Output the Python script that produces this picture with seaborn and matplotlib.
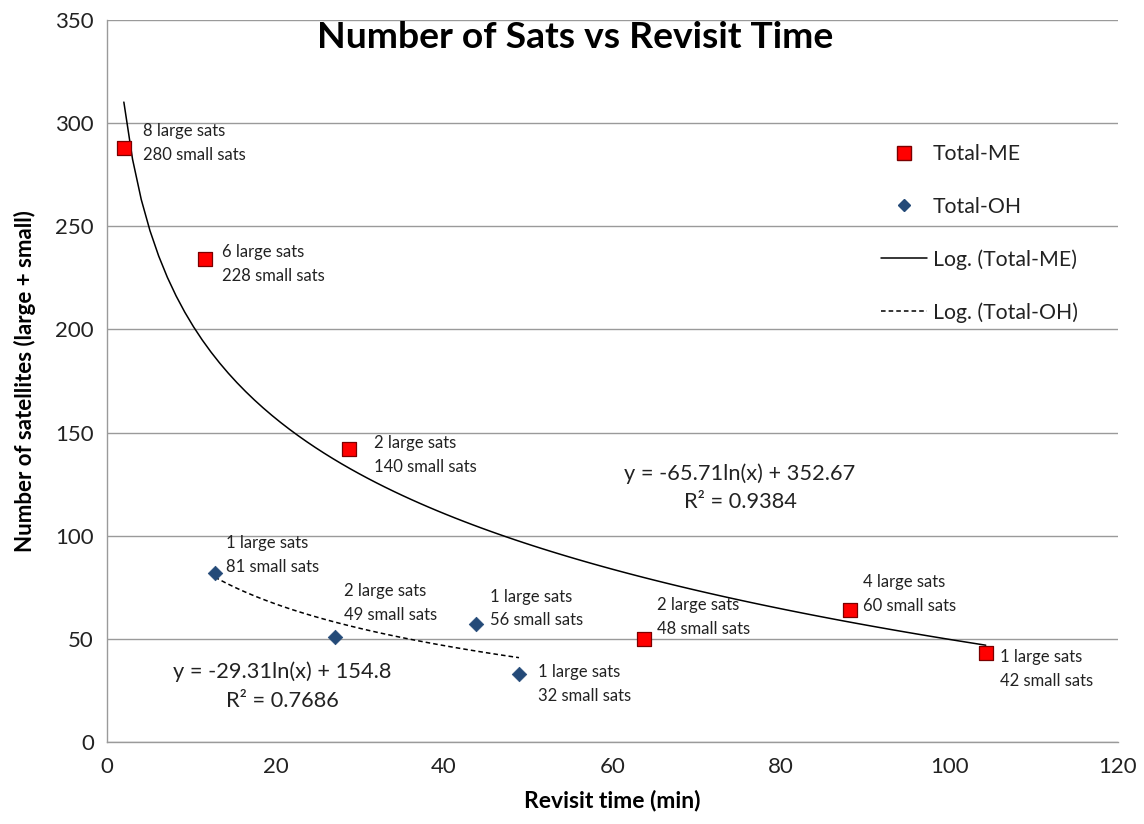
import numpy as np
import pandas as pd
import matplotlib
matplotlib.use("Agg")
import matplotlib.pyplot as plt
from matplotlib.lines import Line2D
import seaborn as sns

# ---------------- data ----------------
me_revisit = [2.0, 11.6, 28.7, 63.7, 88.2, 104.3]
me_large = [8, 6, 2, 2, 4, 1]
me_small = [280, 228, 140, 48, 60, 42]

oh_revisit = [12.8, 27.1, 43.8, 48.9]
oh_large = [1, 2, 1, 1]
oh_small = [81, 49, 56, 32]

x_ticks = [0, 20, 40, 60, 80, 100, 120]
y_ticks = [0, 50, 100, 150, 200, 250, 300, 350]

me_eq = "y = -65.71ln(x) + 352.67"
me_r2 = "R² = 0.9384"
oh_eq = "y = -29.31ln(x) + 154.8"
oh_r2 = "R² = 0.7686"

me_total = [a + b for a, b in zip(me_large, me_small)]
oh_total = [a + b for a, b in zip(oh_large, oh_small)]
df_me = pd.DataFrame({"x": me_revisit, "y": me_total})
df_oh = pd.DataFrame({"x": oh_revisit, "y": oh_total})

# ---------------- layout ----------------
me_offsets = [(19, 5), (17, -5), (25, -6), (13, 22), (13, 16), (14, -16)]
oh_offsets = [(11, 18), (9, 34), (14, 16), (19, -10)]

sns.set_theme(style="white")
FONT = ["Lato", "DejaVu Sans"]
plt.rcParams["font.family"] = FONT

W, H = 1144, 824
fig = plt.figure(figsize=(W / 100, H / 100), dpi=100)
ax = fig.add_axes([107 / W, (H - 742) / H, (1118 - 107) / W, (742 - 20) / H])

grid_c = "#9a9a9a"
red = "#ff0000"
red_edge = "#7a0000"
navy = "#244a78"
txt_c = "#222222"

# trendlines (log fit)
sns.regplot(data=df_me, x="x", y="y", logx=True, ci=None, scatter=False,
            truncate=True, ax=ax, line_kws=dict(color="black", lw=1.1))
sns.regplot(data=df_oh, x="x", y="y", logx=True, ci=None, scatter=False,
            truncate=True, ax=ax, line_kws=dict(color="black", lw=1.1, ls=(0, (3, 2))))

sns.scatterplot(data=df_me, x="x", y="y", marker="s", s=95, color=red,
                edgecolor=red_edge, linewidth=0.9, ax=ax, zorder=5)
sns.scatterplot(data=df_oh, x="x", y="y", marker="D", s=55, color=navy,
                edgecolor=navy, linewidth=0.5, ax=ax, zorder=5)

for x, y, l, s, (dx, dy) in zip(me_revisit, me_total, me_large, me_small, me_offsets):
    ax.annotate(f"{l} large sats\n{s} small sats", (x, y), xytext=(dx, dy),
                textcoords="offset pixels", ha="left", va="center",
                fontsize=12, color=txt_c, linespacing=1.6)
for x, y, l, s, (dx, dy) in zip(oh_revisit, oh_total, oh_large, oh_small, oh_offsets):
    ax.annotate(f"{l} large sats\n{s} small sats", (x, y), xytext=(dx, dy),
                textcoords="offset pixels", ha="left", va="center",
                fontsize=12, color=txt_c, linespacing=1.6)

ax.set_xlim(x_ticks[0], x_ticks[-1])
ax.set_ylim(y_ticks[0], y_ticks[-1])
ax.set_xticks(x_ticks)
ax.set_yticks(y_ticks)
ax.tick_params(axis="both", labelsize=16, colors=txt_c, length=6,
               width=1, direction="out", color=grid_c)
ax.tick_params(axis="x", pad=5)
ax.yaxis.grid(True, color=grid_c, lw=1)
ax.xaxis.grid(False)
for side in ["top", "right"]:
    ax.spines[side].set_visible(False)
for side in ["left", "bottom"]:
    ax.spines[side].set_color(grid_c)
    ax.spines[side].set_linewidth(1)

ax.set_xlabel("Revisit time (min)", fontsize=16.5, fontweight="bold", labelpad=9,
              color="black")
ax.set_ylabel("Number of satellites (large + small)", fontsize=16,
              fontweight="bold", labelpad=14, color="black")

fig.text(575 / W, 1 - 37 / H, "Number of Sats vs Revisit Time", ha="center",
         va="center", fontsize=26.8, fontweight="bold", color="black")

# equations
ax.text((740 - 107) / 1011, (742 - 474) / 722, me_eq, transform=ax.transAxes,
        ha="center", va="center", fontsize=15.7, color=txt_c)
ax.text((740 - 107) / 1011, (742 - 502) / 722, me_r2, transform=ax.transAxes,
        ha="center", va="center", fontsize=15.7, color=txt_c)
ax.text((282 - 107) / 1011, (742 - 672) / 722, oh_eq, transform=ax.transAxes,
        ha="center", va="center", fontsize=15.7, color=txt_c)
ax.text((282 - 107) / 1011, (742 - 701) / 722, oh_r2, transform=ax.transAxes,
        ha="center", va="center", fontsize=15.7, color=txt_c)

handles = [
    Line2D([], [], ls="none", marker="s", markersize=9.5, markerfacecolor=red,
           markeredgecolor=red_edge),
    Line2D([], [], ls="none", marker="D", markersize=6.5, markerfacecolor=navy,
           markeredgecolor=navy),
    Line2D([], [], color="black", lw=1.1),
    Line2D([], [], color="black", lw=1.1, ls=(0, (3, 2))),
]
labels = ["Total-ME", "Total-OH", "Log. (Total-ME)", "Log. (Total-OH)"]
ax.legend(handles, labels, loc="upper left",
          bbox_to_anchor=((872 - 107) / 1011, (742 - 136) / 722),
          frameon=False, fontsize=15.3, labelspacing=1.52, handlelength=2.2,
          handletextpad=0.25, borderaxespad=0, labelcolor=txt_c)

fig.savefig("out.png", dpi=100)
